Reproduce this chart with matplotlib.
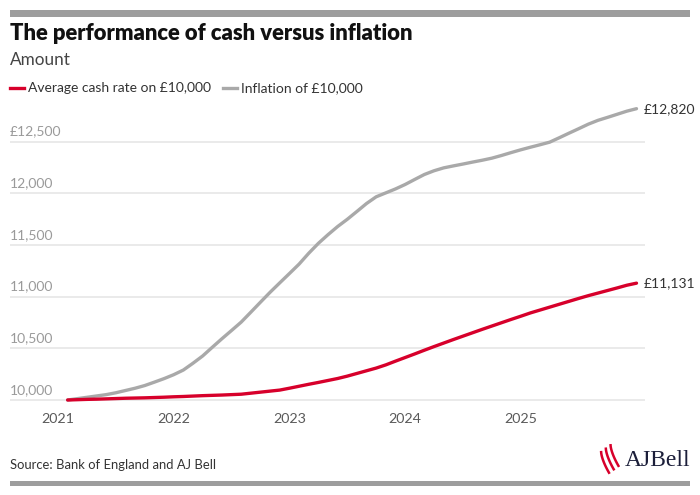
import numpy as np
import matplotlib
matplotlib.use("Agg")
import matplotlib.pyplot as plt
import matplotlib.transforms as mtransforms

plt.rcParams['font.family'] = ['Lato', 'DejaVu Sans']

# monthly values, Jan 2021 .. Dec 2025
months = np.arange(60)
cash = [10000, 10003, 10006, 10008, 10011, 10014, 10017, 10019, 10021, 10024,
        10027, 10031, 10034, 10038, 10042, 10045, 10048, 10052, 10056, 10066,
        10076, 10086, 10096, 10114, 10133, 10152, 10170, 10189, 10208, 10231,
        10257, 10283, 10309, 10340, 10376, 10411, 10446, 10482, 10517, 10551,
        10585, 10618, 10651, 10684, 10716, 10748, 10780, 10811, 10843, 10871,
        10899, 10927, 10955, 10983, 11010, 11035, 11060, 11085, 11111, 11131]
inflation = [10000, 10013, 10026, 10039, 10052, 10070, 10092, 10114, 10140, 10173,
             10207, 10245, 10290, 10356, 10426, 10510, 10593, 10673, 10754, 10850,
             10947, 11043, 11134, 11224, 11315, 11420, 11516, 11600, 11679, 11749,
             11825, 11902, 11967, 12005, 12043, 12086, 12135, 12183, 12219, 12247,
             12266, 12284, 12303, 12321, 12341, 12367, 12395, 12422, 12447, 12471,
             12496, 12539, 12583, 12626, 12670, 12707, 12736, 12766, 12796, 12820]
years = [2021, 2022, 2023, 2024, 2025]
yticks = [10000, 10500, 11000, 11500, 12000, 12500]
ylabels = ["10,000", "10,500", "11,000", "11,500", "12,000", "£12,500"]
series_names = ["Average cash rate on £10,000", "Inflation of £10,000"]

RED = "#d7002b"
GREY = "#a9a9a9"

W, H = 700, 495
fig = plt.figure(figsize=(7, 4.95), dpi=100)

def fx(px):
    return px / W

def fy(py):
    return 1 - py / H

# top and bottom bars
fig.patches.append(plt.Rectangle((fx(10), fy(17)), fx(680), 7 / H, transform=fig.transFigure,
                                 color="#9d9d9d", lw=0))
fig.patches.append(plt.Rectangle((fx(10), fy(486)), fx(680), 5 / H, transform=fig.transFigure,
                                 color="#9d9d9d", lw=0))

fig.text(fx(10), fy(33), "The performance of cash versus inflation", fontsize=15.8,
         fontweight="heavy", color="#111111", va="center", ha="left")
fig.text(fx(10), fy(60), "Amount", fontsize=12.3, color="#444444", va="center", ha="left")

# legend
fig.add_artist(plt.Line2D([fx(10), fx(24)], [fy(88), fy(88)], color=RED, lw=2.4))
fig.text(fx(28), fy(88), series_names[0], fontsize=10, color="#333333", va="center")
fig.add_artist(plt.Line2D([fx(223), fx(237)], [fy(88), fy(88)], color=GREY, lw=2.4))
fig.text(fx(241), fy(88), series_names[1], fontsize=10, color="#333333", va="center")

# plot area
ax = fig.add_axes([fx(10), fy(405), fx(635), (405 - 100) / H])
x = 2021 + (months + 1) / 12
ax.plot(x, inflation, color=GREY, lw=2.4, solid_capstyle="round", zorder=3)
ax.plot(x, cash, color=RED, lw=2.4, solid_capstyle="round", zorder=4)

px_per_year = 115.7
ax.set_xlim(2021 - 48 / px_per_year, 2021 + 587 / px_per_year)
ax.set_ylim(10000 - 5 * 9.68, 10000 + 300 * 9.68)

for s in ax.spines.values():
    s.set_visible(False)
ax.set_yticks([])
ax.set_xticks(years)
ax.set_xticklabels([str(y) for y in years], fontsize=10.3, color="#5a5a5a")
ax.tick_params(axis="x", length=0, pad=6)

trans = mtransforms.blended_transform_factory(ax.transAxes, ax.transData)
for v, lab in zip(yticks, ylabels):
    ax.axhline(v, color="#e8e8e8", lw=1.3, zorder=1)
    ax.annotate(lab, (0, v), xycoords=trans, xytext=(0, 3), textcoords="offset points",
                fontsize=10, color="#9a9a9a", ha="left", va="bottom")

ax.annotate("£12,820", (x[-1], inflation[-1]), xytext=(5, 0), textcoords="offset points",
            fontsize=10, color="#333333", va="center", annotation_clip=False)
ax.annotate("£11,131", (x[-1], cash[-1]), xytext=(5, 0), textcoords="offset points",
            fontsize=10, color="#333333", va="center", annotation_clip=False)

fig.text(fx(10), fy(465), "Source: Bank of England and AJ Bell", fontsize=9.4,
         color="#333333", va="center")

# AJ Bell logo
fig.text(fx(690), fy(460), "AJBell", fontsize=17, family="Liberation Serif",
         color="#1c1f3a", ha="right", va="center")
lax = fig.add_axes([fx(598), fy(475), fx(22), 32 / H])
lax.axis("off")
t = np.linspace(0, 1, 30)
for k, off in enumerate([0.0, 0.3, 0.6]):
    lax.plot(off + 0.2 + 0.5 * t ** 1.5, 1.0 - 0.9 * t + 0.15 * k, color=RED, lw=1.8)
lax.set_xlim(0, 1.4)
lax.set_ylim(0, 1.4)

fig.savefig("out.png", dpi=100)
